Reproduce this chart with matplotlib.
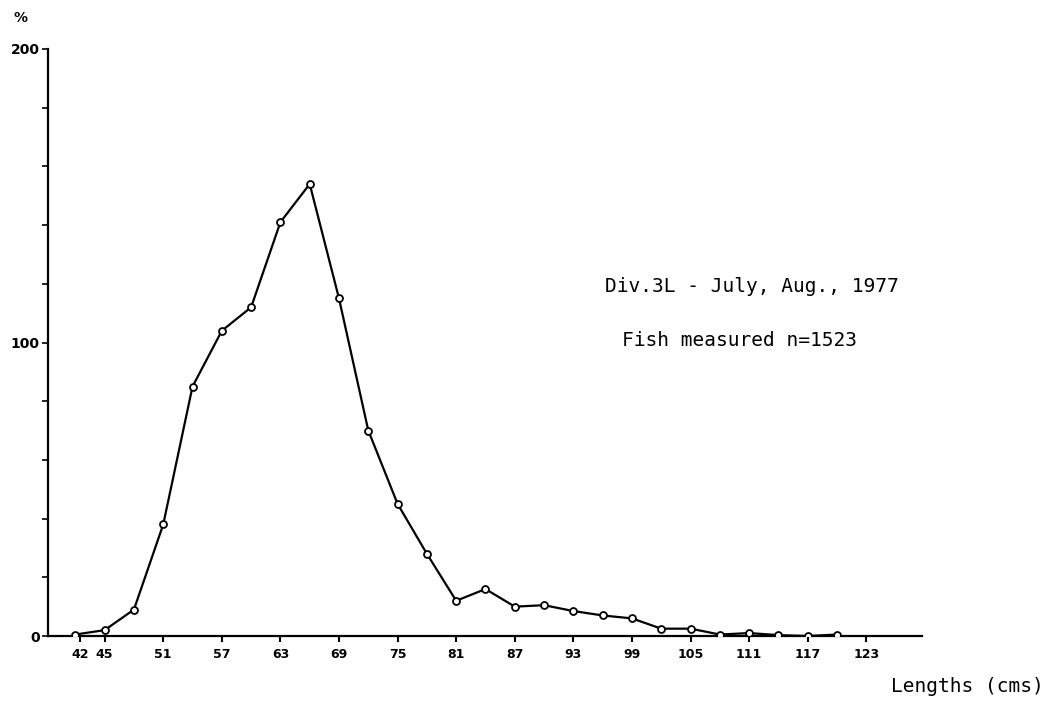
import matplotlib
matplotlib.use('Agg')
from matplotlib import pyplot as plt
from matplotlib.ticker import MultipleLocator

"""Data
"""
lengths = [42, 45, 48, 51, 54, 57, 60, 63, 66, 69, 72, 75, 78, 81,
           84, 87, 90, 93, 96, 99, 102, 105, 108, 111, 114, 117, 120]
percent = [0.5, 2, 9, 38, 85, 104, 112, 141, 154, 115, 70, 45, 28, 12,
           16, 10, 10.5, 8.5, 7, 6, 2.5, 2.5, 0.5, 1, 0.3, 0, 0.5]

tick_pos = [42.5, 45, 51, 57, 63, 69, 75, 81, 87, 93, 99, 105, 111, 117, 123]
tick_lab = ['42', '45', '51', '57', '63', '69', '75', '81', '87', '93', '99',
            '105', '111', '117', '123']

title = 'Div.3L - July, Aug., 1977'
subtitle = 'Fish measured n=1523'

"""Plot
"""
W, H = 1056, 702
f = plt.figure(figsize=(W / 100, H / 100), dpi=100)
ax = f.add_axes([48 / W, 1 - 636 / H, (922 - 48) / W, (636 - 49) / H])

ax.plot(lengths, percent, color='k', lw=1.6, marker='o', markersize=5,
        mfc='white', mec='k', mew=1.3, zorder=3)

ax.set_xlim(39.2, 128.7)
ax.set_ylim(0, 200)

for s in ['top', 'right']:
    ax.spines[s].set_visible(False)
for s in ['left', 'bottom']:
    ax.spines[s].set_linewidth(1.6)

tick_font = {'family': ['Liberation Sans Narrow', 'DejaVu Sans'], 'weight': 'bold'}

ax.set_xticks(tick_pos)
ax.set_xticklabels(tick_lab, fontdict=tick_font, fontsize=9)
ax.tick_params(axis='x', direction='out', length=4, width=1.5, pad=5)

ax.yaxis.set_major_locator(MultipleLocator(100))
ax.yaxis.set_minor_locator(MultipleLocator(20))
ax.set_yticklabels(['0', '100', '200'], fontdict=tick_font, fontsize=10)
ax.set_yticks([0, 100, 200])
ax.tick_params(axis='y', which='both', direction='out', length=4, width=1.2, pad=2)

f.text(14 / W, 1 - 18 / H, '%', fontdict=tick_font, fontsize=10, va='center')

f.text(605 / W, 1 - 286 / H, title, family='DejaVu Sans Mono', fontsize=14, va='center')
f.text(622 / W, 1 - 340 / H, subtitle, family='DejaVu Sans Mono', fontsize=14, va='center')
f.text(891 / W, 1 - 686 / H, 'Lengths (cms)', family='DejaVu Sans Mono', fontsize=14, va='center')

f.savefig('out.png', dpi=100)
